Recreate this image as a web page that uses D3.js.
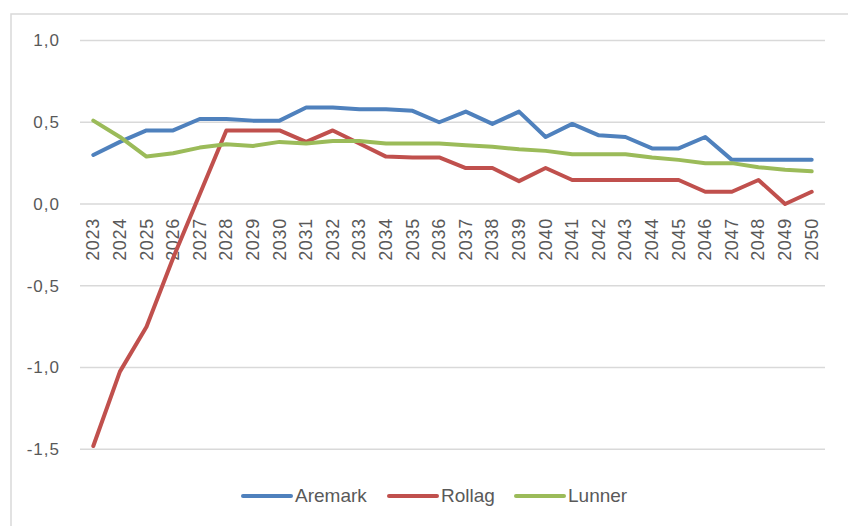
<!DOCTYPE html>
<html>
<head>
<meta charset="utf-8">
<script src="https://cdn.jsdelivr.net/npm/d3@7"></script>
<style>
html,body{margin:0;padding:0;background:#fff;}
svg{display:block;}
text{font-family:"Liberation Sans","Open Sans",sans-serif;fill:#595959;}
</style>
</head>
<body>
<svg id="chart" width="848" height="526"></svg>
<script>
const years = ["2023","2024","2025","2026","2027","2028","2029","2030","2031","2032","2033","2034","2035","2036","2037","2038","2039","2040","2041","2042","2043","2044","2045","2046","2047","2048","2049","2050"];
const aremark = [0.30,0.38,0.45,0.45,0.52,0.52,0.51,0.51,0.59,0.59,0.58,0.58,0.57,0.50,0.565,0.49,0.565,0.41,0.49,0.42,0.41,0.34,0.34,0.41,0.27,0.27,0.27,0.27];
const rollag = [-1.48,-1.025,-0.75,-0.33,0.06,0.45,0.45,0.45,0.38,0.45,0.37,0.29,0.285,0.285,0.22,0.22,0.14,0.22,0.147,0.147,0.147,0.147,0.147,0.075,0.075,0.147,0.0,0.075];
const lunner = [0.51,0.41,0.29,0.31,0.345,0.365,0.355,0.38,0.37,0.385,0.385,0.37,0.37,0.37,0.36,0.35,0.335,0.325,0.305,0.305,0.305,0.285,0.27,0.25,0.25,0.225,0.21,0.20];
const seriesNames = ["Aremark","Rollag","Lunner"];
const seriesColors = ["#4F81BD","#C0504D","#9BBB59"];
const yTicks = [1.0,0.5,0.0,-0.5,-1.0,-1.5];

const series = [aremark, rollag, lunner];
const svg = d3.select("#chart");

// outer frame
svg.append("rect").attr("x",11).attr("y",14).attr("width",900).attr("height",600)
  .attr("fill","none").attr("stroke","#d9d9d9").attr("stroke-width",1.5);

const x = d3.scaleBand().domain(years).range([80,825]);
const y = d3.scaleLinear().domain([-1.5,1.0]).range([449.3,40.5]);
const fmt = v => d3.format(".1f")(v).replace(".",",").replace("−","-");

// gridlines
svg.append("g").selectAll("line").data(yTicks).join("line")
  .attr("x1",80).attr("x2",825)
  .attr("y1",d=>y(d)).attr("y2",d=>y(d))
  .attr("stroke","#d9d9d9").attr("stroke-width",1.5);

// y labels
svg.append("g").selectAll("text").data(yTicks).join("text")
  .attr("x",60).attr("y",d=>y(d)).attr("dy","0.35em")
  .attr("text-anchor","end").attr("font-size",17).attr("letter-spacing",1)
  .text(d=>fmt(d));

// x labels (rotated)
svg.append("g").selectAll("text").data(years).join("text")
  .attr("transform",d=>`translate(${x(d)+x.bandwidth()/2+6},218) rotate(-90)`)
  .attr("text-anchor","end").attr("font-size",18).attr("letter-spacing",0.7)
  .text(d=>d);

// lines
const line = d3.line().x((d,i)=>x(years[i])+x.bandwidth()/2).y(d=>y(d));
series.forEach((s,k)=>{
  svg.append("path").datum(s).attr("d",line)
    .attr("fill","none").attr("stroke",seriesColors[k]).attr("stroke-width",4)
    .attr("stroke-linejoin","round").attr("stroke-linecap","round");
});

// legend
const legX = [243,389,516];
const lg = svg.append("g");
seriesNames.forEach((n,k)=>{
  lg.append("line").attr("x1",legX[k]).attr("x2",legX[k]+48).attr("y1",496).attr("y2",496)
    .attr("stroke",seriesColors[k]).attr("stroke-width",4).attr("stroke-linecap","round");
  lg.append("text").attr("x",legX[k]+52).attr("y",502)
    .attr("font-size",19).text(n);
});
</script>
</body>
</html>
